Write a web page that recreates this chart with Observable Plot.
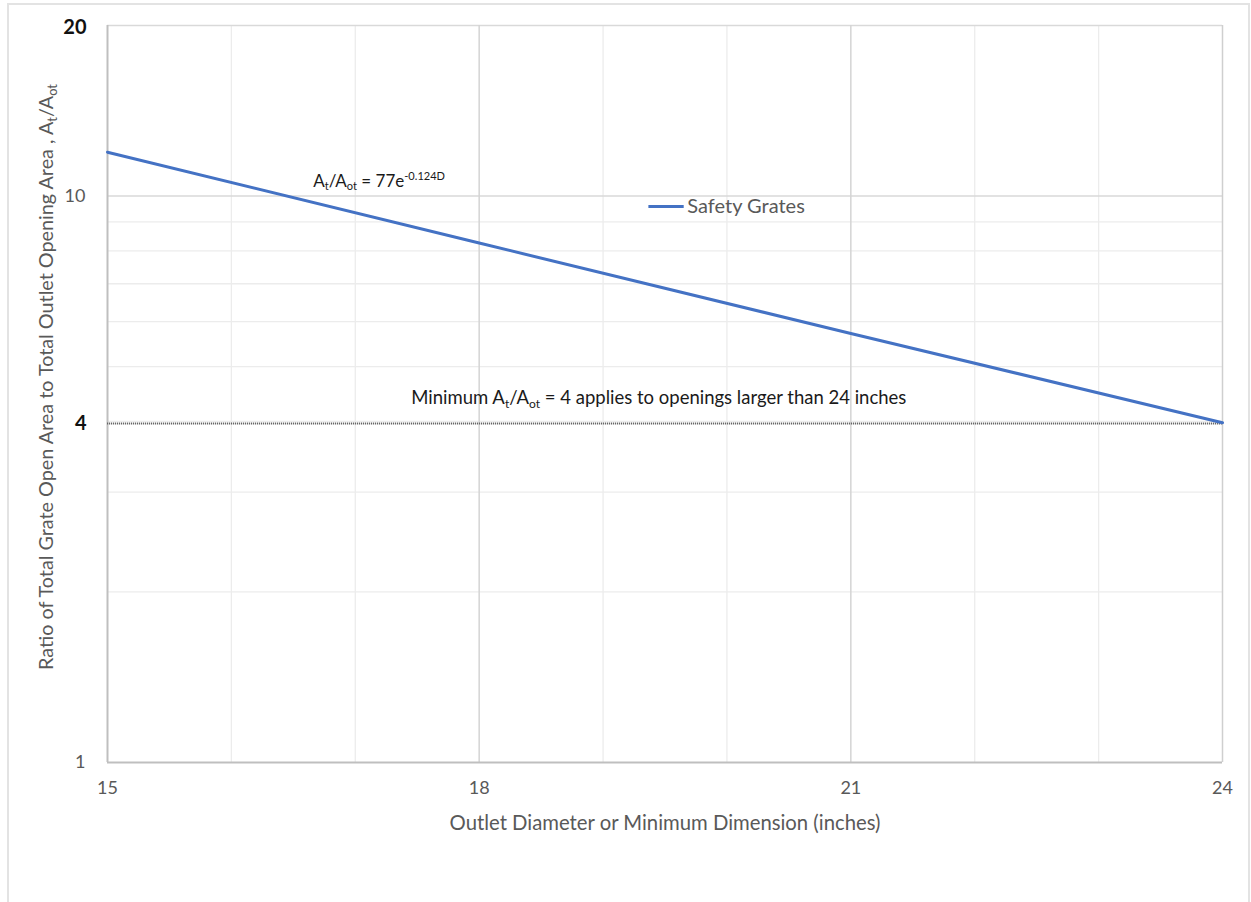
<!DOCTYPE html>
<html><head><meta charset="utf-8">
<script src="https://cdn.jsdelivr.net/npm/d3@7"></script>
<script src="https://cdn.jsdelivr.net/npm/@observablehq/plot@0.6"></script>
<style>
body{margin:0;background:#fff;}
#frame{position:absolute;left:7px;top:3px;width:1239px;height:910px;border-left:2px solid #e3e3e3;border-top:2px solid #e3e3e3;border-right:2px solid #e3e3e3;}
#chart{position:absolute;left:0;top:0;}
</style></head>
<body><div id="frame"></div><div id="chart"></div>
<script>
// ---- data ----
const diameters = [15, 18, 21, 24];
const ratios = [11.95, 8.26, 5.72, 3.98];
const seriesName = "Safety Grates";
const minRatio = 4;
const xTicks = [15, 18, 21, 24];
const xMinorGrid = [16, 17, 19, 20, 22, 23];
const yMinorGrid = [2, 3, 4, 5, 6, 7, 8, 9];
const yMajorGrid = [10, 20];
const yTicksBold = [20, 4];
const yTicksPlain = [10, 1];
const xLabel = "Outlet Diameter or Minimum Dimension (inches)";
const yLabel = "Ratio of Total Grate Open Area to Total Outlet Opening Area , A_{t}/A_{ot}";
const equationText = "A_{t}/A_{ot} = 77e^{-0.124D}";
const minimumText = "Minimum A_{t}/A_{ot} = 4 applies to openings larger than 24 inches";

const data = diameters.map((d, i) => ({d, r: ratios[i]}));
const font = "Lato, 'Open Sans', sans-serif";

const plot = Plot.plot({
  width: 1251, height: 902,
  marginLeft: 107, marginRight: 29, marginTop: 25, marginBottom: 140,
  style: {fontFamily: font, background: "transparent"},
  x: {domain: [15, 24], axis: null},
  y: {type: "log", domain: [1, 20], axis: null},
  marks: [
    Plot.ruleX(xMinorGrid, {stroke: "#ececec", strokeWidth: 1.3}),
    Plot.ruleY(yMinorGrid, {stroke: "#ececec", strokeWidth: 1.3}),
    Plot.ruleY(yMajorGrid, {stroke: "#d9d9d9", strokeWidth: 1.5}),
    Plot.ruleX([18, 21], {stroke: "#d4d4d4", strokeWidth: 1.5}),
    Plot.ruleX([24], {stroke: "#cfcfcf", strokeWidth: 1.5}),
    Plot.ruleX([15], {stroke: "#bfbfbf", strokeWidth: 2}),
    Plot.ruleY([1], {stroke: "#bfbfbf", strokeWidth: 2}),
    Plot.ruleY([minRatio], {stroke: "#666", strokeDasharray: "1.2,0.8", strokeWidth: 2, dy: 2}),
    Plot.line(data, {x: "d", y: "r", stroke: "#4472C4", strokeWidth: 3}),
    Plot.axisX({ticks: xTicks, tickSize: 0, tickPadding: 19, fontSize: 18, fill: "#595959", label: null}),
    Plot.axisY({ticks: yTicksBold, tickSize: 0, tickPadding: 21, fontSize: 20, fontWeight: "bold", fill: "#111", label: null, dy: 2}),
    Plot.axisY({ticks: yTicksPlain, tickSize: 0, tickPadding: 22, fontSize: 18, fill: "#595959", label: null}),
    Plot.text([xLabel], {text: d => d, frameAnchor: "bottom", textAnchor: "middle", lineAnchor: "middle", dy: 61, fontSize: 20.3, fill: "#595959"}),
    Plot.text([yLabel], {text: d => d, frameAnchor: "left", textAnchor: "middle", lineAnchor: "middle", rotate: -90, dx: -61, dy: -17, fontSize: 19.8, fill: "#595959"}),
    Plot.text([equationText], {text: d => d, x: 16.66, y: 10.6, textAnchor: "start", fontSize: 17, fill: "#1a1a1a"}),
    Plot.text([minimumText], {text: d => d, x: 19.45, y: 4.39, fontSize: 18.5, fill: "#1a1a1a"}),
    Plot.ruleY([9.58], {x1: 19.37, x2: 19.655, stroke: "#4472C4", strokeWidth: 3}),
    Plot.text([seriesName], {text: d => d, x: 19.68, y: 9.58, textAnchor: "start", fontSize: 20, fill: "#595959"})
  ]
});

// render _{sub} and ^{sup} markup as real sub/superscript tspans
d3.select(plot).selectAll("text").filter(function() {
  return /[_^]\{/.test(this.textContent);
}).each(function() {
  const s = this.textContent;
  const el = d3.select(this);
  el.selectAll("*").remove();
  el.text("");
  const re = /([_^])\{([^}]*)\}|([^_^]+)/g;
  let m;
  while ((m = re.exec(s))) {
    if (m[3]) el.append("tspan").text(m[3]);
    else el.append("tspan")
      .attr("baseline-shift", m[1] === "_" ? "-0.3em" : "0.6em")
      .attr("font-size", "65%")
      .text(m[2]);
  }
});

document.getElementById("chart").appendChild(plot);
</script>
</body></html>
